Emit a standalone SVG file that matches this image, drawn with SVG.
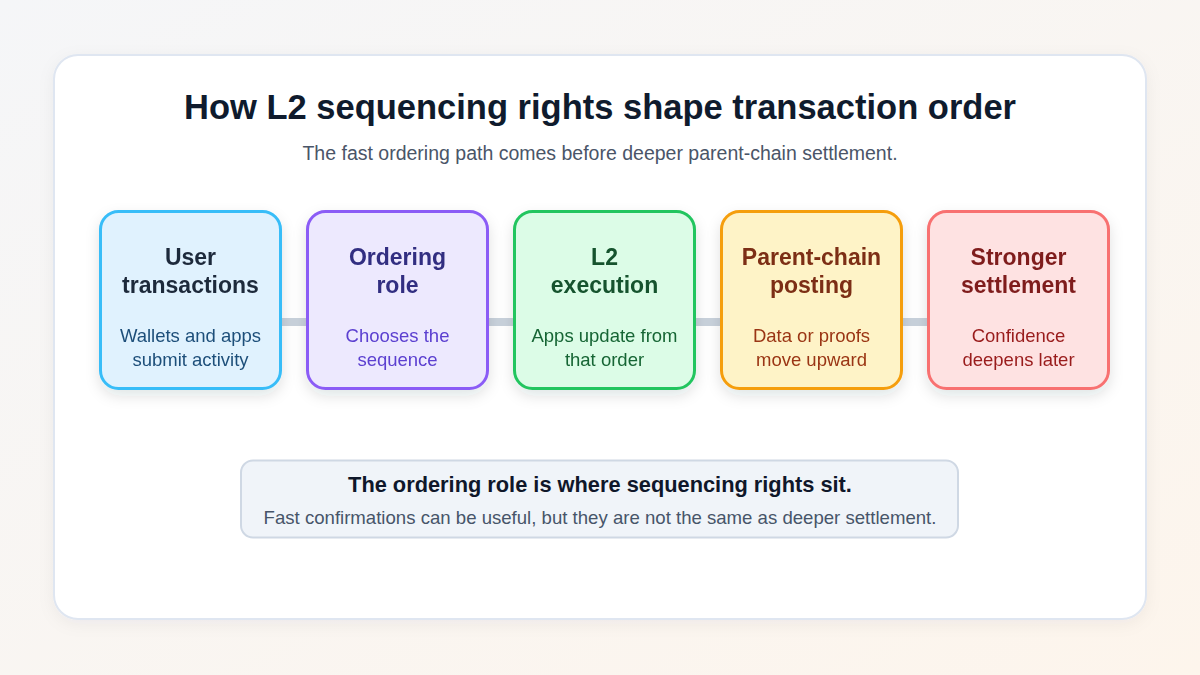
<svg xmlns="http://www.w3.org/2000/svg" width="1200" height="675" viewBox="0 0 1200 675">
<defs>
<linearGradient id="bg" x1="0" y1="0" x2="1" y2="1">
<stop offset="0" stop-color="#f5f6f8"/>
<stop offset="1" stop-color="#fdf5ec"/>
</linearGradient>
<filter id="sh" x="-20%" y="-20%" width="140%" height="150%">
<feDropShadow dx="0" dy="6" stdDeviation="7" flood-color="#1e293b" flood-opacity="0.12"/>
</filter>
<filter id="csh" x="-5%" y="-5%" width="110%" height="115%">
<feDropShadow dx="0" dy="4" stdDeviation="8" flood-color="#1e293b" flood-opacity="0.05"/>
</filter>
<style>
text{font-family:"Liberation Sans",Arial,sans-serif;text-anchor:middle}
.nt{font-size:23px;font-weight:bold}
.nd{font-size:18.5px}
.box{stroke-width:3}
.conn{fill:#c8d1db}
</style>
</defs>
<rect width="1200" height="675" fill="url(#bg)"/>
<rect x="54" y="55" width="1092" height="564" rx="24" fill="#ffffff" stroke="#dfe6f1" stroke-width="2" filter="url(#csh)"/>
<g id="title">
<text x="600" y="119" font-size="34.5" font-weight="bold" fill="#0f1b2d">How L2 sequencing rights shape transaction order</text>
<text x="600" y="160" font-size="19.5" fill="#4a5568">The fast ordering path comes before deeper parent-chain settlement.</text>
</g>
<g id="connectors">
<rect class="conn" x="281" y="318" width="26" height="8"/>
<rect class="conn" x="488" y="318" width="26" height="8"/>
<rect class="conn" x="695" y="318" width="26" height="8"/>
<rect class="conn" x="902" y="318" width="26" height="8"/>
</g>
<g id="node-user" filter="url(#sh)">
<rect class="box" x="100.5" y="211.5" width="180" height="177" rx="18" fill="#e0f2fe" stroke="#38bdf8"/>
<text class="nt" x="190.5" y="265" fill="#1e293b">User</text>
<text class="nt" x="190.5" y="293" fill="#1e293b">transactions</text>
<text class="nd" x="190.5" y="342" fill="#1e4f7a">Wallets and apps</text>
<text class="nd" x="190.5" y="366" fill="#1e4f7a">submit activity</text>
</g>
<g id="node-ordering" filter="url(#sh)">
<rect class="box" x="307.5" y="211.5" width="180" height="177" rx="18" fill="#ede9fe" stroke="#8b5cf6"/>
<text class="nt" x="397.5" y="265" fill="#312e81">Ordering</text>
<text class="nt" x="397.5" y="293" fill="#312e81">role</text>
<text class="nd" x="397.5" y="342" fill="#5b3fd0">Chooses the</text>
<text class="nd" x="397.5" y="366" fill="#5b3fd0">sequence</text>
</g>
<g id="node-execution" filter="url(#sh)">
<rect class="box" x="514.5" y="211.5" width="180" height="177" rx="18" fill="#dcfce7" stroke="#22c55e"/>
<text class="nt" x="604.5" y="265" fill="#14532d">L2</text>
<text class="nt" x="604.5" y="293" fill="#14532d">execution</text>
<text class="nd" x="604.5" y="342" fill="#166534">Apps update from</text>
<text class="nd" x="604.5" y="366" fill="#166534">that order</text>
</g>
<g id="node-posting" filter="url(#sh)">
<rect class="box" x="721.5" y="211.5" width="180" height="177" rx="18" fill="#fef3c7" stroke="#f59e0b"/>
<text class="nt" x="811.5" y="265" fill="#7c2d12">Parent-chain</text>
<text class="nt" x="811.5" y="293" fill="#7c2d12">posting</text>
<text class="nd" x="811.5" y="342" fill="#9a3412">Data or proofs</text>
<text class="nd" x="811.5" y="366" fill="#9a3412">move upward</text>
</g>
<g id="node-settlement" filter="url(#sh)">
<rect class="box" x="928.5" y="211.5" width="180" height="177" rx="18" fill="#fee2e2" stroke="#f87171"/>
<text class="nt" x="1018.5" y="265" fill="#7f1d1d">Stronger</text>
<text class="nt" x="1018.5" y="293" fill="#7f1d1d">settlement</text>
<text class="nd" x="1018.5" y="342" fill="#991b1b">Confidence</text>
<text class="nd" x="1018.5" y="366" fill="#991b1b">deepens later</text>
</g>
<g id="note">
<rect x="241" y="460.5" width="717" height="77" rx="12" fill="#f0f4f9" stroke="#cfd8e4" stroke-width="2"/>
<text x="600" y="492" font-size="21.8" font-weight="bold" fill="#0f172a">The ordering role is where sequencing rights sit.</text>
<text x="600" y="524" font-size="18.6" fill="#475569">Fast confirmations can be useful, but they are not the same as deeper settlement.</text>
</g>
</svg>
